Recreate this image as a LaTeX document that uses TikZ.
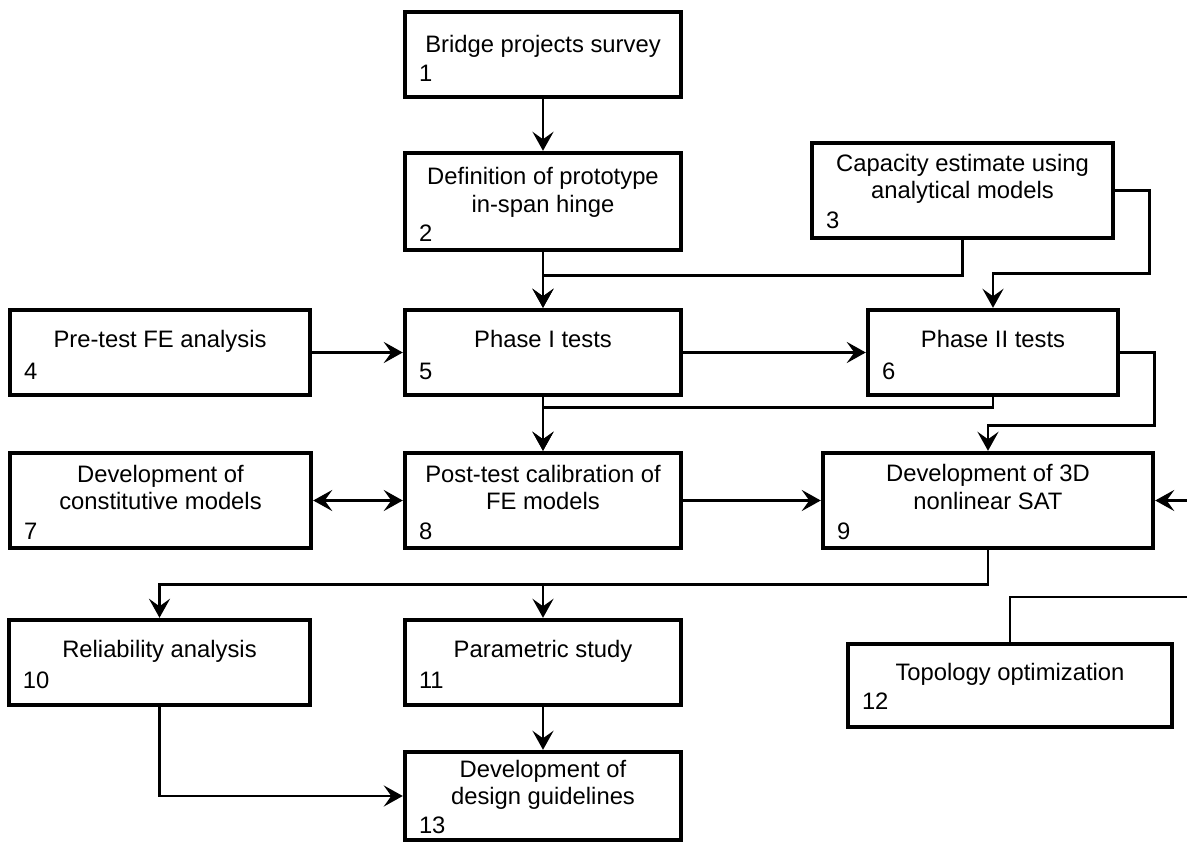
\documentclass[tikz,border=0pt]{standalone}
\usepackage{fontspec}
\setmainfont{Liberation Sans}
\usetikzlibrary{arrows.meta,calc}
\newcommand\flowbox[9]{%
  \node[fbox, minimum width=#4pt, minimum height=#5pt] (#1) at (#2,#3) {};
  \node[ftitle, anchor=base] (#1t) at ([yshift=-#7pt]#1.north) {#6};
  \node[fnum, anchor=base west] (#1k) at ([xshift=16pt,yshift=#9pt]#1.south west) {#8};
}
\begin{document}
\begin{tikzpicture}[x=1pt,y=-1pt,
  fbox/.style={draw=black, line width=4.4pt, fill=white, inner sep=0pt},
  ftitle/.style={inner sep=0pt, align=center, font=\fontsize{23.8}{27.5}\selectfont},
  fnum/.style={inner sep=0pt, font=\fontsize{23.8}{27.5}\selectfont},
  conn/.style={line width=2.8pt, black},
  arr/.style={conn, -{Stealth[length=19pt,width=21pt,inset=7.5pt]}},
  darr/.style={conn, {Stealth[length=19pt,width=21pt,inset=7.5pt]}-{Stealth[length=19pt,width=21pt,inset=7.5pt]}}]
\useasboundingbox (0,0) rectangle (1187,842);
\fill[white] (0,0) rectangle (1187,842);

\flowbox{n1}{543}{54.5}{276}{85}{Bridge projects survey}{43}{1}{18}
\flowbox{n2}{543}{201.5}{276}{97}{Definition of prototype\\in-span hinge}{61.5}{2}{11}
\flowbox{n3}{962.5}{190.5}{301}{95}{Capacity estimate using\\analytical models}{58}{3}{12}
\flowbox{n4}{160}{352.5}{300}{85}{Pre-test FE analysis}{40}{4}{18}
\flowbox{n5}{543}{352.5}{276}{85}{Phase I tests}{40}{5}{18}
\flowbox{n6}{993}{352.5}{250}{85}{Phase II tests}{40}{6}{18}
\flowbox{n7}{160.5}{500.5}{301}{95}{Development of\\constitutive models}{59}{7}{11}
\flowbox{n8}{543}{500.5}{276}{95}{Post-test calibration of\\FE models}{59}{8}{11}
\flowbox{n9}{988}{500.5}{330}{95}{Development of 3D\\nonlinear SAT}{58.5}{9}{11}
\flowbox{n10}{159.5}{662.5}{301}{85}{Reliability analysis}{40}{10}{19}
\flowbox{n11}{543}{662.5}{276}{85}{Parametric study}{40}{11}{19}
\flowbox{n12}{1010}{685.5}{324}{83}{Topology optimization}{39}{12}{20}
\flowbox{n13}{543}{796}{276}{88}{Development of\\design guidelines}{55}{13}{9}

\coordinate (r9) at (1187,500.5);
\coordinate (r12) at (1187,597);

\draw[arr] (n1.south) -- (n2.north);
\draw[arr] (n2.south) -- (n5.north);
\draw[arr] (n3.south) -- ++(0,35) -| (n5.north);
\draw[arr] (n3.east) -- ++(34,0) -- ++(0,83) -| (n6.north);
\draw[arr] (n4.east) -- (n5.west);
\draw[arr] (n5.east) -- (n6.west);
\draw[arr] (n5.south) -- (n8.north);
\draw[arr] (n6.south) -- ++(0,10) -| (n8.north);
\draw[arr] (n6.east) -- ++(34,0) -- ++(0,73) -| (n9.north);
\draw[darr] (n7.east) -- (n8.west);
\draw[arr] (n8.east) -- (n9.west);
\draw[arr] (r9) -- (n9.east);
\draw[arr] (n9.south) -- ++(0,34) -| (n10.north);
\draw[arr] (n9.south) -- ++(0,34) -| (n11.north);
\draw[arr] (n11.south) -- (n13.north);
\draw[arr] (n10.south) |- (n13.west);
\draw[conn] (n12.north) |- (r12);
\end{tikzpicture}
\end{document}
